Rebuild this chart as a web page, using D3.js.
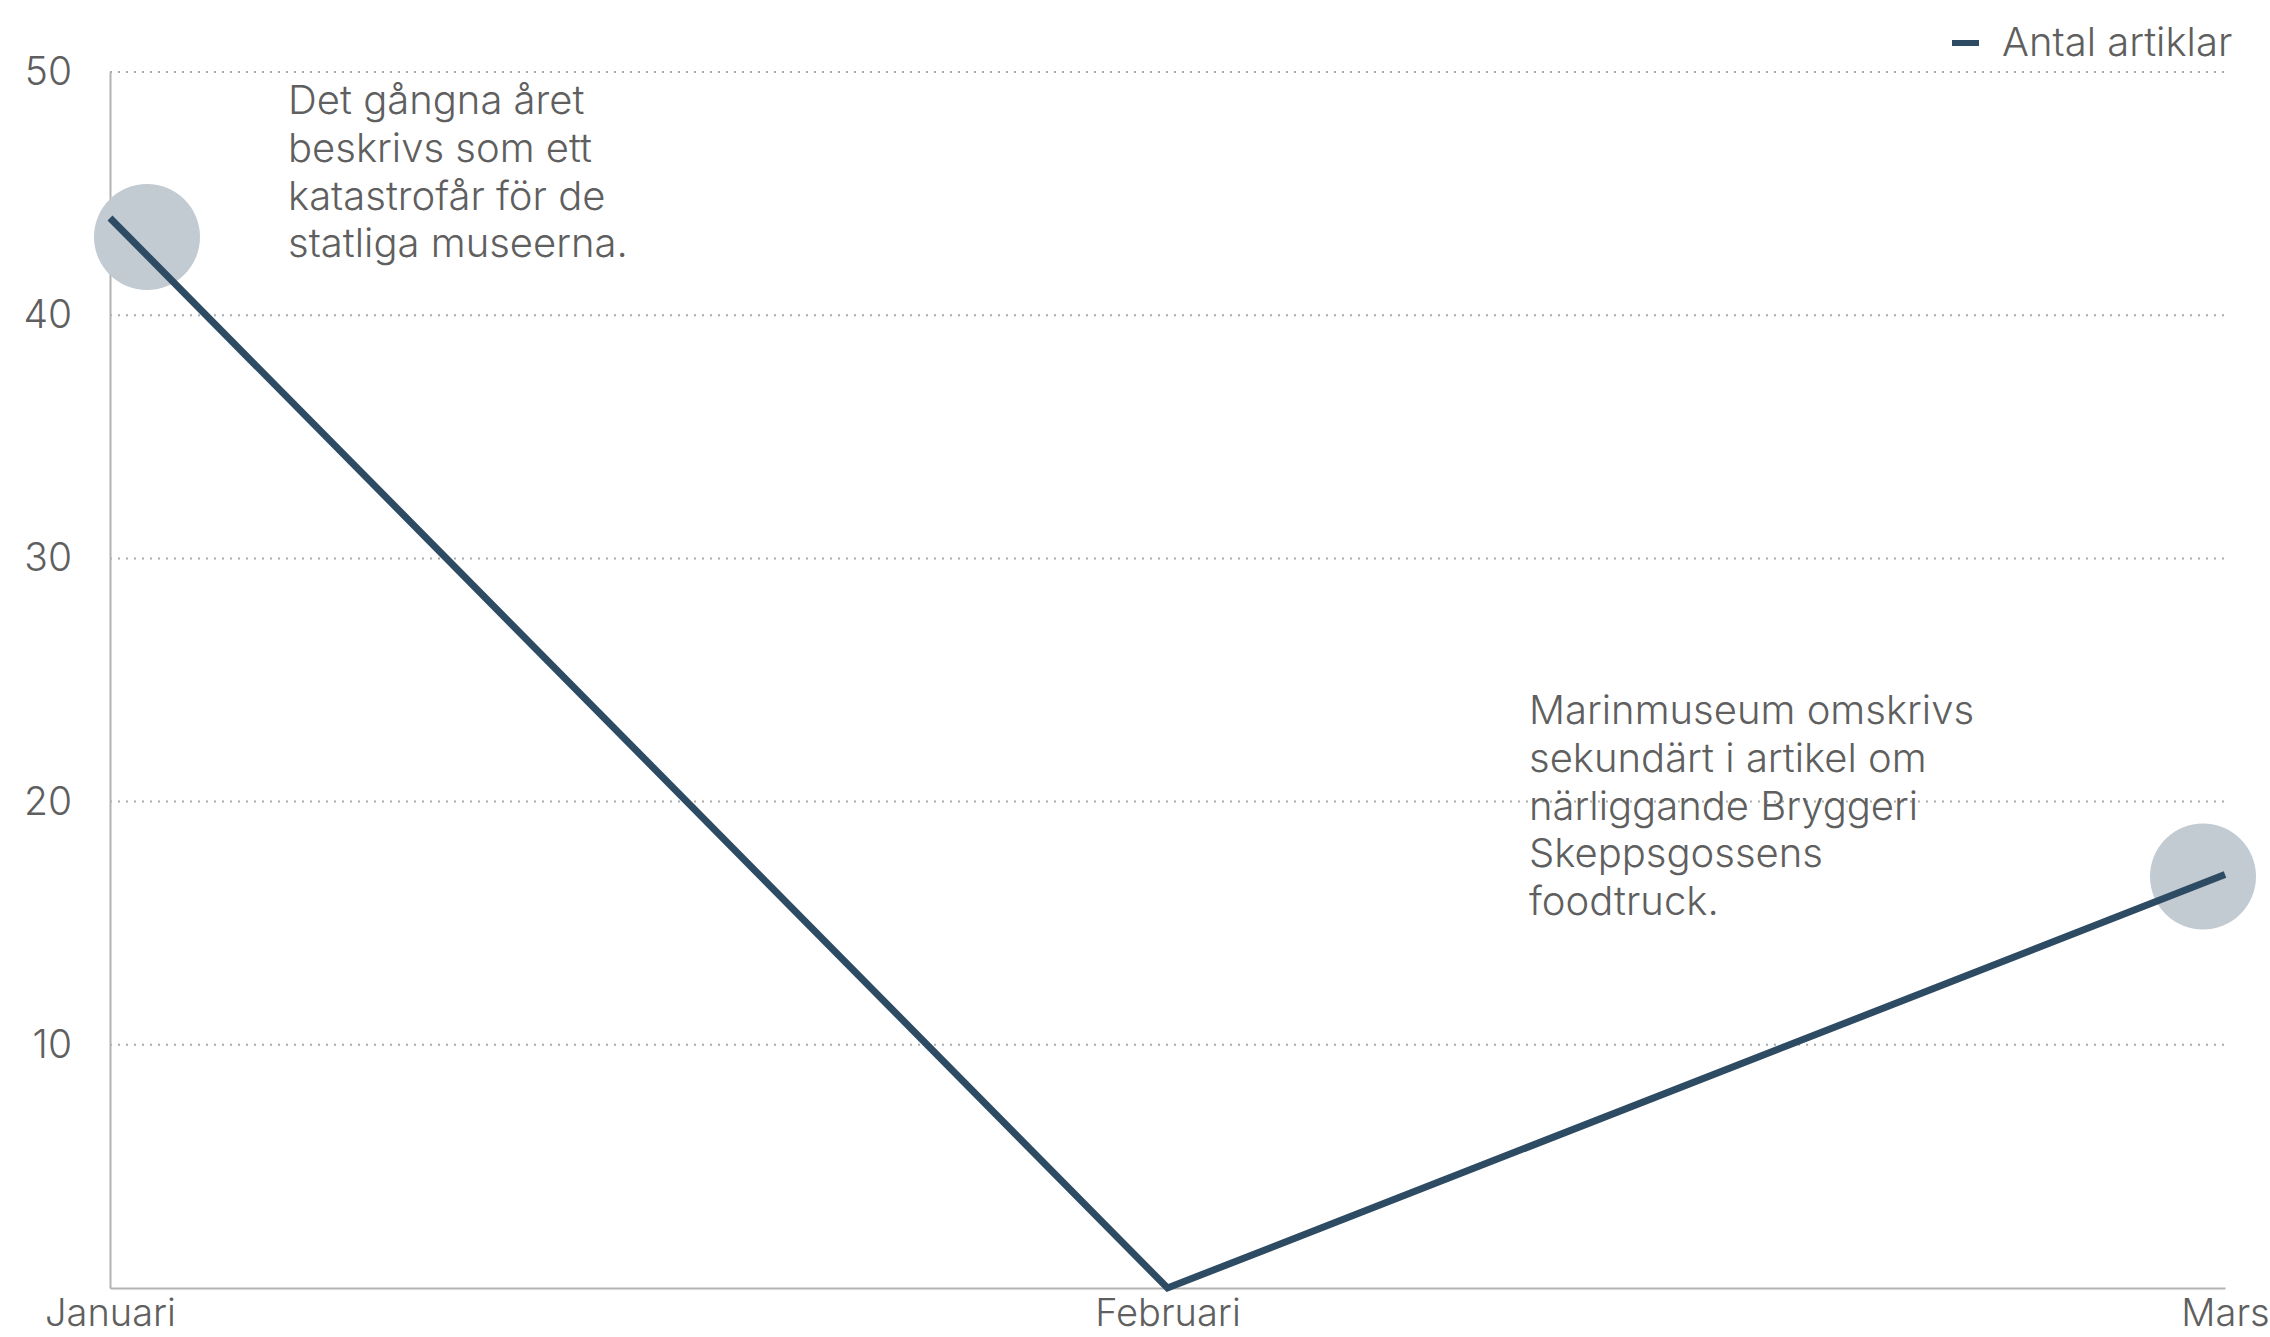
<!DOCTYPE html>
<html>
<head>
<meta charset="utf-8">
<script src="https://cdn.jsdelivr.net/npm/d3@7"></script>
<style>
  html, body { margin: 0; padding: 0; background: #fff; }
  svg { display: block; }
  text { font-family: Inter, "Open Sans", sans-serif; font-weight: 300; fill: #5f5f5f; }
</style>
</head>
<body>
<svg id="chart" width="2270" height="1337"></svg>
<script>
const categories = ["Januari", "Februari", "Mars"];
const values = [44, 0, 17];
const yTicks = [10, 20, 30, 40, 50];
const seriesName = "Antal artiklar";
const annotations = [
  { index: 0, lines: ["Det gångna året", "beskrivs som ett", "katastrofår för de", "statliga museerna."] },
  { index: 2, lines: ["Marinmuseum omskrivs", "sekundärt i artikel om", "närliggande Bryggeri", "Skeppsgossens", "foodtruck."] }
];

const FONT = 'Inter, "Open Sans", sans-serif';
const FS = 40;
const FS_AXIS = 38;
const svg = d3.select("#chart");
const margin = { left: 110, right: 45, top: 72, bottom: 49 };
const W = 2270, H = 1337;

const x = d3.scalePoint().domain(categories).range([margin.left, W - margin.right]);
const y = d3.scaleLinear().domain([0, 50]).range([H - margin.bottom, margin.top]);

// grid lines
svg.append("g").selectAll("line").data(yTicks).join("line")
  .attr("x1", margin.left).attr("x2", W - margin.right)
  .attr("y1", d => y(d)).attr("y2", d => y(d))
  .attr("stroke", "#ababab").attr("stroke-width", 2)
  .attr("stroke-dasharray", "2,6");

// y axis
const yAxis = svg.append("g").attr("transform", `translate(${margin.left},0)`)
  .call(d3.axisLeft(y).tickValues(yTicks).tickSize(0).tickPadding(38));
yAxis.select(".domain").attr("stroke", "#b3b3b3").attr("stroke-width", 2);
yAxis.selectAll("text").attr("font-size", FS_AXIS + 1).attr("fill", "#5f5f5f")
  .attr("font-family", FONT).attr("font-weight", 300);

// x axis
const xAxis = svg.append("g").attr("transform", `translate(0,${y(0)})`)
  .call(d3.axisBottom(x).tickSize(0).tickPadding(0));
xAxis.select(".domain").attr("stroke", "#b3b3b3").attr("stroke-width", 2);
xAxis.selectAll("text").attr("font-size", FS_AXIS).attr("fill", "#5f5f5f")
  .attr("font-family", FONT).attr("font-weight", 300)
  .attr("dy", null).attr("y", 38);

// highlight circles
const circleOffsets = { 0: [37, 19], 2: [-22, 2] };
svg.append("g").selectAll("circle").data(annotations).join("circle")
  .attr("cx", d => x(categories[d.index]) + circleOffsets[d.index][0])
  .attr("cy", d => y(values[d.index]) + circleOffsets[d.index][1])
  .attr("r", 53)
  .attr("fill", "#c2cad2");

// line
const data = categories.map((c, i) => ({ c, v: values[i] }));
svg.append("path").datum(data)
  .attr("fill", "none")
  .attr("stroke", "#2e4b64")
  .attr("stroke-width", 7)
  .attr("stroke-linejoin", "miter")
  .attr("d", d3.line().x(d => x(d.c)).y(d => y(d.v)));

// annotation texts
const annoPos = { 0: { x: 288, y0: 114 }, 2: { x: 1529, y0: 724 } };
annotations.forEach(a => {
  const t = svg.append("text")
    .attr("x", annoPos[a.index].x)
    .attr("y", annoPos[a.index].y0)
    .attr("font-size", FS);
  a.lines.forEach((l, i) => {
    t.append("tspan").attr("x", annoPos[a.index].x).attr("dy", i === 0 ? 0 : 47.8).text(l);
  });
});

// legend
const lg = svg.append("g");
lg.append("line").attr("x1", 1952).attr("x2", 1979).attr("y1", 43).attr("y2", 43)
  .attr("stroke", "#2e4b64").attr("stroke-width", 6);
lg.append("text").attr("x", 2002).attr("y", 56).attr("font-size", FS).text(seriesName);
</script>
</body>
</html>
